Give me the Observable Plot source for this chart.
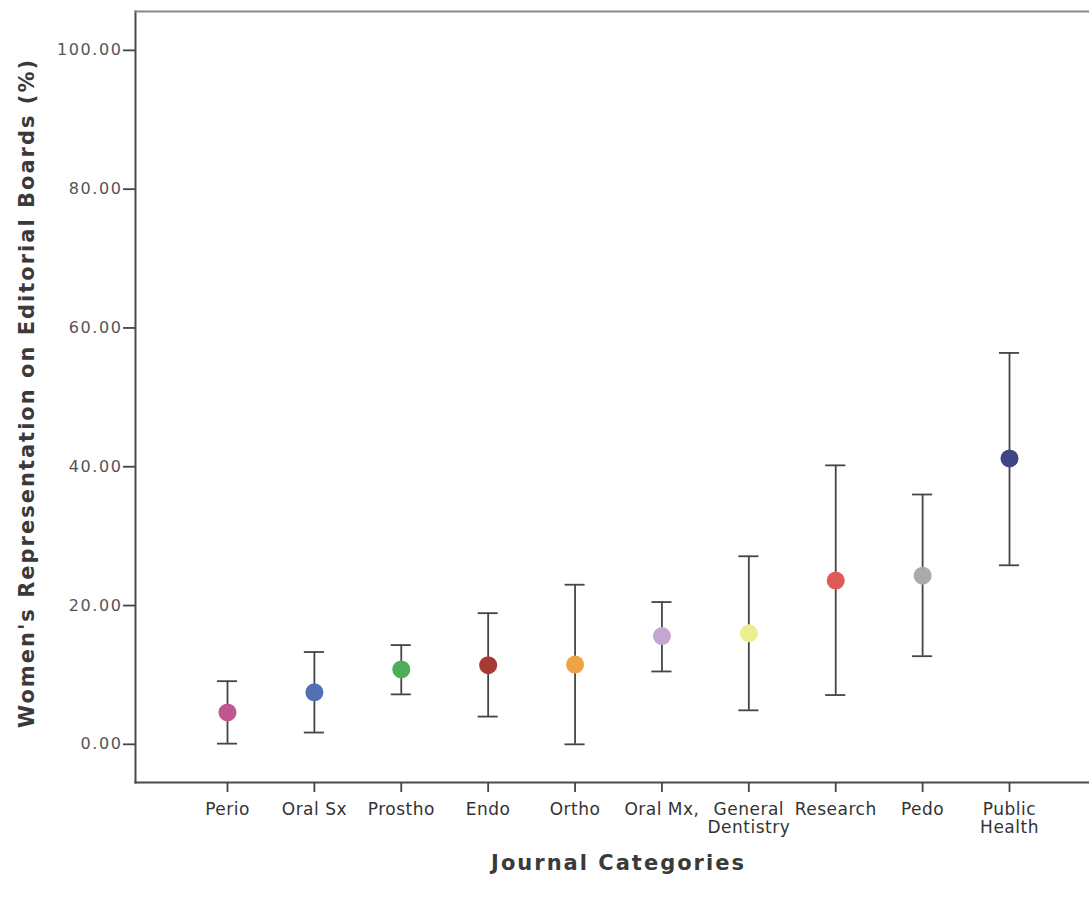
<!DOCTYPE html>
<html>
<head>
<meta charset="utf-8">
<script src="https://cdn.jsdelivr.net/npm/d3@7"></script>
<script src="https://cdn.jsdelivr.net/npm/@observablehq/plot@0.6"></script>
<style>
  html, body { margin: 0; padding: 0; background: #fff; }
  #chart svg { display: block; }
</style>
</head>
<body>
<div id="chart"></div>
<script>
const categories = ["Perio", "Oral Sx", "Prostho", "Endo", "Ortho", "Oral Mx,", "General\nDentistry", "Research", "Pedo", "Public\nHealth"];
const means = [4.6, 7.5, 10.8, 11.4, 11.5, 15.6, 16.0, 23.6, 24.3, 41.2];
const lower = [0.1, 1.7, 7.2, 4.0, 0.0, 10.5, 4.9, 7.1, 12.7, 25.8];
const upper = [9.1, 13.3, 14.3, 18.9, 23.0, 20.5, 27.1, 40.2, 36.0, 56.4];
const colors = ["#c0568f", "#5271b4", "#4cae5a", "#a83a36", "#efa444", "#c3a7d0", "#eeee8f", "#e05a58", "#a9aaad", "#3e4584"];
const yTicks = [0, 20, 40, 60, 80, 100];

const data = categories.map((c, i) => ({cat: c, mean: means[i], lo: lower[i], hi: upper[i], color: colors[i]}));

const lineColor = "#454545";
const capInset = 33.4;

const chart = Plot.plot({
  width: 1089,
  height: 897,
  marginLeft: 135,
  marginTop: 11,
  marginBottom: 115,
  marginRight: 0,
  x: {type: "band", domain: categories, range: [183.55, 1052.45], padding: 0, round: false, axis: null},
  y: {domain: [-5.5, 105.6], axis: null},
  marks: [
    Plot.frame({anchor: "left", stroke: "#4a4a4a", strokeWidth: 2}),
    Plot.frame({anchor: "top", stroke: "#888", strokeWidth: 2}),
    Plot.frame({anchor: "bottom", stroke: "#4a4a4a", strokeWidth: 2}),
    Plot.axisY({
      ticks: yTicks, tickFormat: d3.format(".2f"), tickSize: 12, tickPadding: 1,
      fontSize: 16, stroke: lineColor, strokeWidth: 1.8, fill: "#555", label: null,
      fontFamily: "DejaVu Sans"
    }),
    Plot.axisX({
      tickSize: 10, tickPadding: 10, fontSize: 17, stroke: lineColor, strokeWidth: 1.8,
      fill: "#333", label: null, lineHeight: 1.06,
      fontFamily: "'DejaVu Sans', sans-serif"
    }),
    Plot.ruleX(data, {x: "cat", y1: "lo", y2: "hi", stroke: lineColor, strokeWidth: 1.8}),
    Plot.tickY(data, {x: "cat", y: "lo", stroke: lineColor, strokeWidth: 1.8, insetLeft: capInset, insetRight: capInset}),
    Plot.tickY(data, {x: "cat", y: "hi", stroke: lineColor, strokeWidth: 1.8, insetLeft: capInset, insetRight: capInset}),
    Plot.dot(data, {x: "cat", y: "mean", r: 9, fill: "color", stroke: null}),
    Plot.text(["Journal Categories"], {frameAnchor: "bottom", dy: 87, dx: 6, fontSize: 21, fontWeight: "bold", fill: "#3a3a3a", fontFamily: "'DejaVu Sans'"}),
    Plot.text(["Women's Representation on Editorial Boards (%)"], {frameAnchor: "left", textAnchor: "middle", dx: -108, dy: -4, rotate: -90, fontSize: 21, fontWeight: "bold", fill: "#3a3a3a", fontFamily: "'DejaVu Sans'"})
  ]
});
const svg = d3.select(chart);
svg.selectAll('g[aria-label="y-axis tick label"] text').attr("letter-spacing", 1.6);
svg.selectAll('g[aria-label="x-axis tick label"] text').attr("letter-spacing", 0.5);
svg.selectAll('g[aria-label="text"] text').attr("letter-spacing", 2);
document.getElementById("chart").appendChild(chart);
</script>
</body>
</html>
